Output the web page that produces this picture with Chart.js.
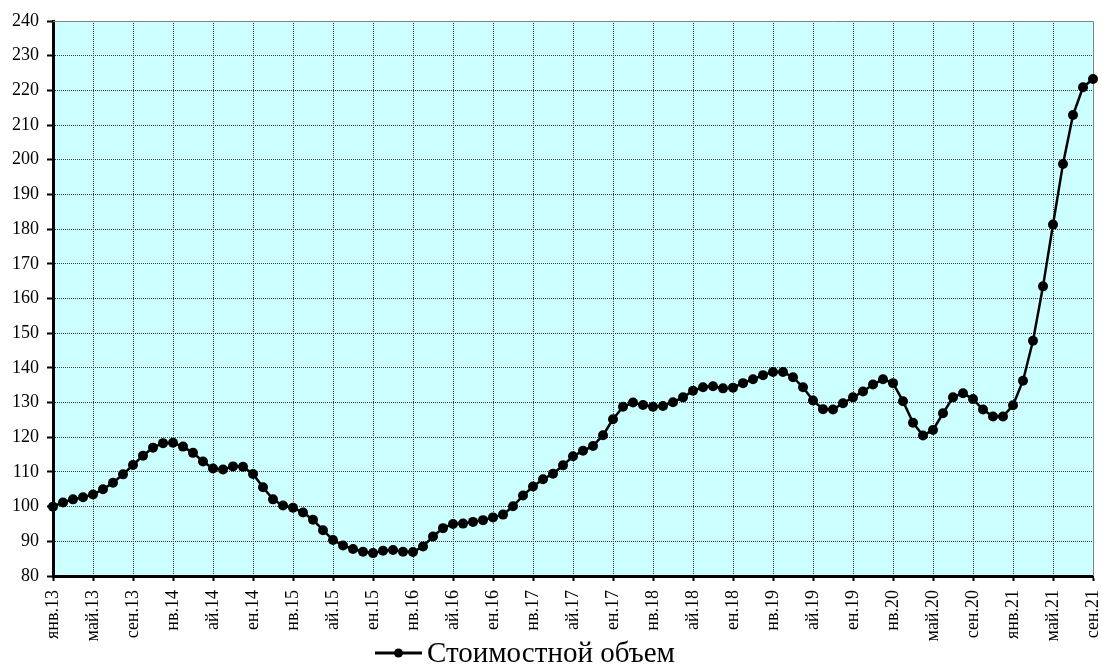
<!DOCTYPE html>
<html>
<head>
<meta charset="utf-8">
<script src="https://cdn.jsdelivr.net/npm/chart.js@4"></script>
<style>
  html, body { margin: 0; padding: 0; background: #ffffff; }
  #wrap { width: 1102px; height: 669px; position: relative; }
</style>
</head>
<body>
<div id="wrap"><canvas id="c" width="1102" height="669"></canvas></div>
<script>
// ---- data ----
const monthAbbr = ['янв','фев','мар','апр','май','июн','июл','авг','сен','окт','ноя','дек'];
const years = ['13','14','15','16','17','18','19','20','21'];
const categories = [];
for (const y of years) for (const m of monthAbbr) categories.push(m + '.' + y);
categories.length = 105; // янв.13 .. сен.21

const tickLabels = ['янв.13','май.13','сен.13','нв.14','ай.14','ен.14','нв.15','ай.15','ен.15',
  'нв.16','ай.16','ен.16','нв.17','ай.17','ен.17','нв.18','ай.18','ен.18','нв.19','ай.19','ен.19',
  'нв.20','май.20','сен.20','янв.21','май.21','сен.21'];

const seriesName = 'Стоимостной объем';
const values = [
  100, 101.2, 102.1, 102.7, 103.5, 105.0, 106.9, 109.3, 112.0, 114.7, 117.0, 118.3,
  118.4, 117.3, 115.5, 113.0, 111.0, 110.7, 111.6, 111.5, 109.4, 105.6, 102.1, 100.3,
  99.7, 98.3, 96.2, 93.2, 90.4, 88.8, 87.8, 87.0, 86.6, 87.3, 87.5, 87.0,
  86.9, 88.5, 91.4, 93.8, 95.0, 95.1, 95.6, 96.1, 96.9, 97.7, 100.1, 103.2,
  105.8, 107.9, 109.5, 111.9, 114.5, 116.1, 117.5, 120.6, 125.2, 128.8, 130.0, 129.3,
  128.8, 129.0, 130.1, 131.5, 133.4, 134.4, 134.7, 134.1, 134.3, 135.6, 136.7, 137.9,
  138.8, 138.8, 137.3, 134.4, 130.6, 128.1, 128.0, 129.8, 131.5, 133.2, 135.2, 136.7,
  135.6, 130.4, 124.2, 120.5, 122.1, 126.9, 131.5, 132.7, 131.0, 128.0, 126.0, 126.0,
  129.2, 136.3, 147.8, 163.5, 181.3, 198.8, 212.9, 220.9, 223.3
];

const FONT = '"Liberation Serif", "Times New Roman", serif';
const GRID = '#3a3a3a';

const areaPlugin = {
  id: 'areaPlugin',
  beforeDraw(chart) {
    const {ctx, chartArea: a} = chart;
    ctx.save();
    ctx.fillStyle = '#ffffff';
    ctx.fillRect(0, 0, chart.width, chart.height);
    ctx.fillStyle = '#CCFFFF';
    ctx.fillRect(a.left, a.top, a.right - a.left, a.bottom - a.top);
    ctx.restore();
  },
  beforeDatasetsDraw(chart) {
    const {ctx, chartArea: a} = chart;
    ctx.save();
    ctx.strokeStyle = '#808080';
    ctx.lineWidth = 1;
    ctx.beginPath();
    ctx.moveTo(a.left, a.top + 0.5);
    ctx.lineTo(a.right + 0.5, a.top + 0.5);
    ctx.lineTo(a.right + 0.5, a.bottom);
    ctx.stroke();
    ctx.restore();
  },
  afterDraw(chart) {
    // legend
    const ctx = chart.ctx;
    ctx.save();
    ctx.font = '29px ' + FONT;
    const lineW = 47, gap = 5;
    const x0 = 375;
    const y = 653;
    ctx.strokeStyle = '#000';
    ctx.lineWidth = 3;
    ctx.beginPath();
    ctx.moveTo(x0, y);
    ctx.lineTo(x0 + lineW, y);
    ctx.stroke();
    ctx.fillStyle = '#000';
    ctx.beginPath();
    ctx.arc(x0 + lineW / 2, y, 4.5, 0, Math.PI * 2);
    ctx.fill();
    ctx.textBaseline = 'middle';
    ctx.textAlign = 'left';
    ctx.fillText(seriesName, x0 + lineW + gap, y + 1);
    ctx.restore();
  }
};

new Chart(document.getElementById('c'), {
  type: 'line',
  data: {
    labels: categories,
    datasets: [{
      label: seriesName,
      data: values,
      borderColor: '#000000',
      backgroundColor: '#000000',
      borderWidth: 2.5,
      pointRadius: 5,
      pointHoverRadius: 5,
      pointBackgroundColor: '#000000',
      pointBorderWidth: 0,
      tension: 0,
      clip: false
    }]
  },
  options: {
    responsive: false,
    animation: false,
    devicePixelRatio: 1,
    layout: { padding: { top: 21, right: 9, left: 0, bottom: 0 } },
    plugins: {
      legend: { display: false },
      tooltip: { enabled: false }
    },
    scales: {
      x: {
        type: 'category',
        offset: false,
        afterFit(scale) { scale.height = 93; scale.paddingLeft = 0; scale.paddingRight = 0; },
        border: { display: true, color: '#000000', width: 3, dash: [1, 1] },
        grid: {
          display: true,
          drawOnChartArea: true,
          color: (c) => (c.index % 4 === 0 && c.index !== 0 && c.index !== 104) ? GRID : 'rgba(0,0,0,0)',
          lineWidth: 1,
          tickLength: 5,
          tickWidth: 2,
          tickColor: (c) => (c.index % 4 === 0) ? '#000000' : 'rgba(0,0,0,0)',
          tickBorderDash: []
        },
        ticks: {
          autoSkip: false,
          maxRotation: 90,
          minRotation: 90,
          padding: 9,
          color: '#000000',
          font: { family: FONT, size: 18 },
          callback: function(val, idx) {
            return idx % 4 === 0 ? tickLabels[idx / 4] : '';
          }
        }
      },
      y: {
        min: 80,
        max: 240,
        afterFit(scale) { scale.width = 53; scale.paddingTop = 0; scale.paddingBottom = 0; },
        border: { display: true, color: '#000000', width: 3, dash: [1, 1] },
        grid: {
          color: (c) => (c.tick && (c.tick.value === 80 || c.tick.value === 240)) ? 'rgba(0,0,0,0)' : GRID,
          lineWidth: 1,
          tickLength: 6,
          tickWidth: 2,
          tickColor: '#000000',
          tickBorderDash: []
        },
        ticks: {
          stepSize: 10,
          padding: 8,
          color: '#000000',
          font: { family: FONT, size: 18 }
        }
      }
    }
  },
  plugins: [areaPlugin]
});
</script>
</body>
</html>
